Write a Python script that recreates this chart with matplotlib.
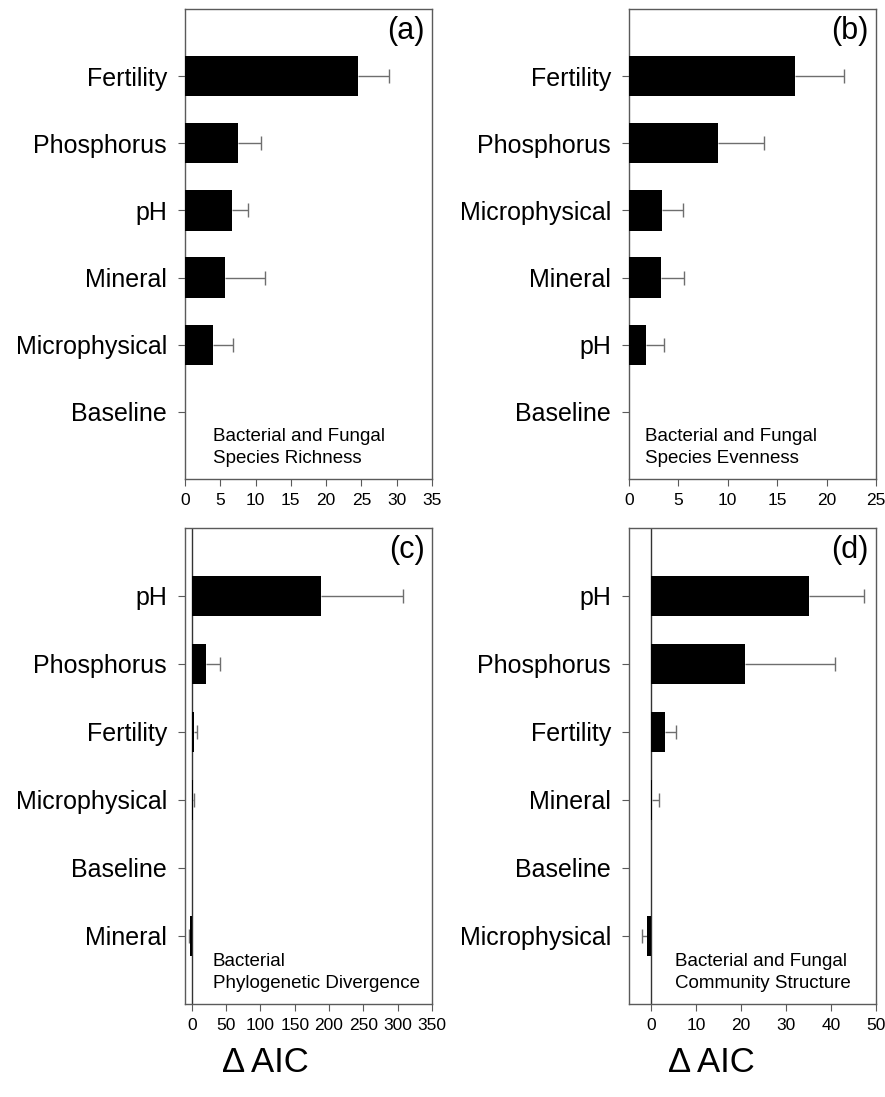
import numpy as np
import matplotlib
matplotlib.use("Agg")
import matplotlib.pyplot as plt

plt.rcParams['font.family'] = ['Liberation Sans', 'DejaVu Sans']

# delta AIC per predictor set, listed top to bottom; err is the one-sided bar length
cats_a = ['Fertility', 'Phosphorus', 'pH', 'Mineral', 'Microphysical', 'Baseline']
vals_a = [24.5, 7.5, 6.6, 5.7, 4.0, 0.0]
errs_a = [4.4, 3.3, 2.3, 5.7, 2.8, 0.0]

cats_b = ['Fertility', 'Phosphorus', 'Microphysical', 'Mineral', 'pH', 'Baseline']
vals_b = [16.8, 9.0, 3.3, 3.2, 1.7, 0.0]
errs_b = [5.0, 4.7, 2.2, 2.4, 1.8, 0.0]

cats_c = ['pH', 'Phosphorus', 'Fertility', 'Microphysical', 'Baseline', 'Mineral']
vals_c = [189.0, 20.0, 3.5, 2.0, 0.0, -2.0]
errs_c = [119.0, 21.0, 3.5, 1.5, 0.0, 2.0]

cats_d = ['pH', 'Phosphorus', 'Fertility', 'Mineral', 'Baseline', 'Microphysical']
vals_d = [35.0, 20.9, 3.0, 0.2, 0.0, -1.0]
errs_d = [12.3, 20.1, 2.4, 1.6, 0.0, 1.2]

panels = [
    ('(a)', cats_a, vals_a, errs_a, 'Bacterial and Fungal\nSpecies Richness',
     (0, 35), np.arange(0, 36, 5), 0.113),
    ('(b)', cats_b, vals_b, errs_b, 'Bacterial and Fungal\nSpecies Evenness',
     (0, 25), np.arange(0, 26, 5), 0.065),
    ('(c)', cats_c, vals_c, errs_c, 'Bacterial\nPhylogenetic Divergence',
     (-10, 350), np.arange(0, 351, 50), 0.113),
    ('(d)', cats_d, vals_d, errs_d, 'Bacterial and Fungal\nCommunity Structure',
     (-5, 50), np.arange(0, 51, 10), 0.186),
]

# axes boxes in figure fractions [left, bottom, width, height]
boxes = [
    [0.209, 0.5634, 0.279, 0.4284],
    [0.7107, 0.5634, 0.279, 0.4284],
    [0.209, 0.0848, 0.279, 0.4339],
    [0.7107, 0.0848, 0.279, 0.4339],
]

edge = '#5a5a5a'
err_col = '#6e6e6e'
fig = plt.figure(figsize=(8.85, 10.97), dpi=100)

for box, (tag, cats, vals, errs, note, xlim, xticks, note_x) in zip(boxes, panels):
    ax = fig.add_axes(box)
    n = len(cats)
    y = np.arange(n)[::-1]
    vals = np.array(vals)
    errs = np.array(errs)
    ax.barh(y, vals, height=0.6, color='black', linewidth=0, zorder=3)
    # one-sided whiskers pointing away from zero, cap at the far end only
    ends = vals + np.sign(vals) * errs
    keep = errs > 0
    ax.hlines(y[keep], vals[keep], ends[keep], color=err_col, linewidth=1.0,
              zorder=2)
    ax.plot(ends[keep], y[keep], linestyle='none', marker='|', markersize=10,
            markeredgewidth=1.0, color=err_col, zorder=2)
    if xlim[0] < 0:
        ax.axvline(0, color='#333333', linewidth=1.0, zorder=1)
    ax.set_xlim(*xlim)
    ax.set_ylim(-1, n)
    ax.set_xticks(xticks)
    ax.set_yticks(y)
    ax.set_yticklabels(cats, fontsize=18)
    ax.tick_params(axis='x', labelsize=12.5, length=5, color=edge, pad=5)
    ax.tick_params(axis='y', length=5, color=edge, pad=8)
    for s in ax.spines.values():
        s.set_color(edge)
        s.set_linewidth(1.0)
    ax.text(0.97, 0.985, tag, transform=ax.transAxes, ha='right', va='top',
            fontsize=22)
    ax.text(note_x, 0.026, note, transform=ax.transAxes, ha='left', va='bottom',
            fontsize=13.5, linespacing=1.35)

fig.text(0.30, 0.031, '\u0394 AIC', ha='center', va='center', fontsize=25)
fig.text(0.804, 0.031, '\u0394 AIC', ha='center', va='center', fontsize=25)

fig.savefig('out.png', dpi=100)
